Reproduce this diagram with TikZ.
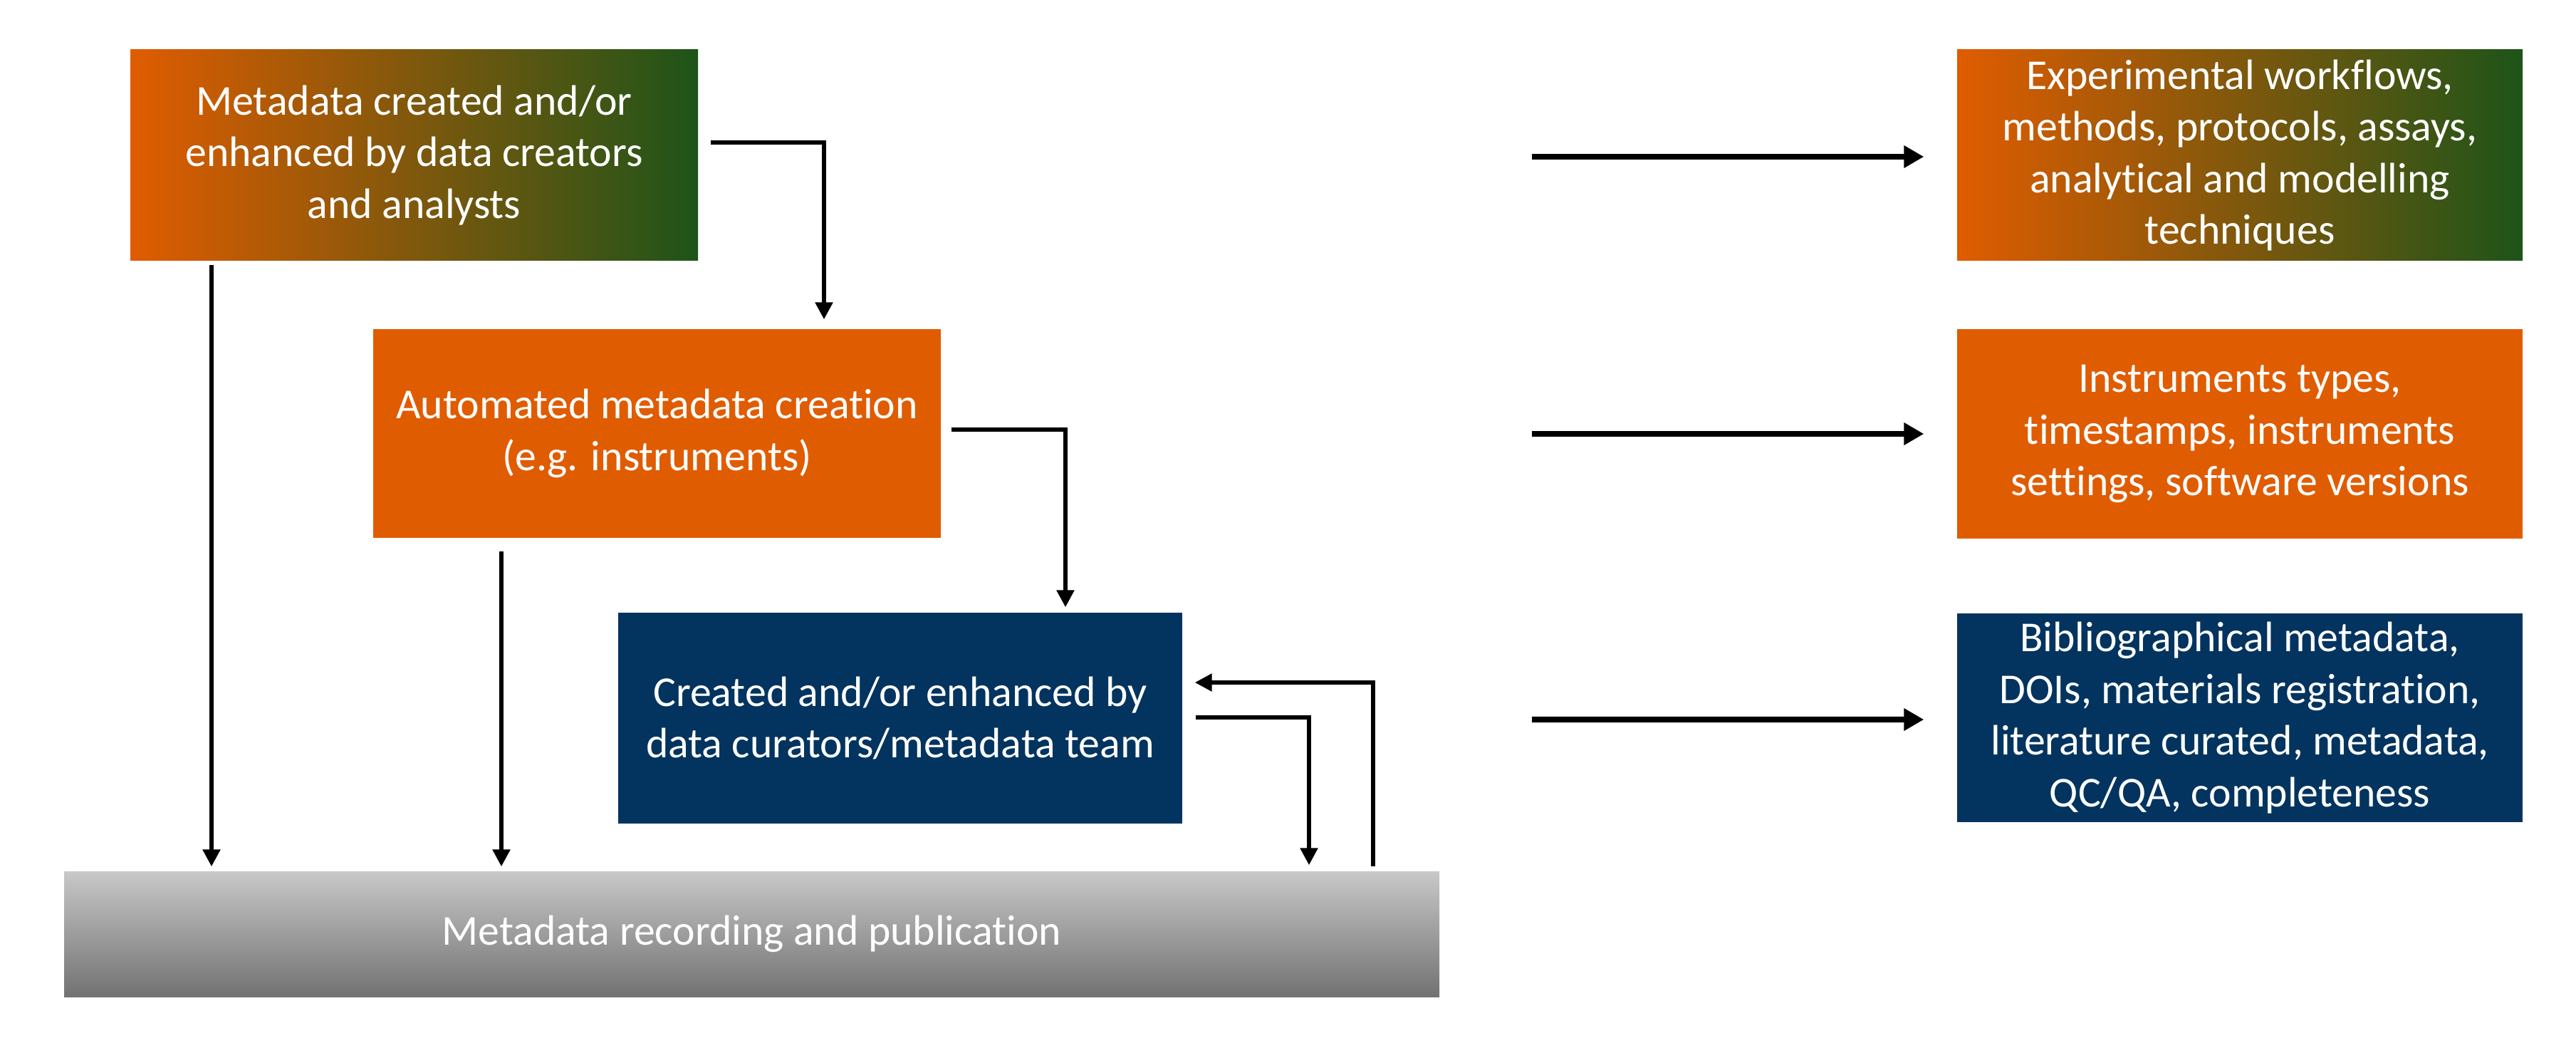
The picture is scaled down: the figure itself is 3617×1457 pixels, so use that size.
\documentclass[tikz,border=0pt]{standalone}
\usepackage{fontspec}
\setmainfont{Carlito}[Ligatures=NoCommon]
\usetikzlibrary{arrows.meta,calc}
\definecolor{orng}{HTML}{E05C00}
\definecolor{navy}{HTML}{03345F}
\definecolor{grtop}{HTML}{C8C8C8}
\definecolor{grbot}{HTML}{727272}
\definecolor{gmid}{HTML}{A8742E}
\definecolor{gmidb}{HTML}{80581A}
\definecolor{grn}{HTML}{1E5419}
\tikzset{
  box/.style={inner sep=0pt, align=center, text=white,
    font=\fontsize{17}{20.6}\selectfont},
  orangebox/.style={box, fill=orng},
  bluebox/.style={box, fill=navy},
  gradbox/.style={box, left color=orng, middle color=gmid, right color=grn},
  gradboxb/.style={box, left color=orng, middle color=gmidb, right color=grn},
  thinarr/.style={line width=1.6pt, -{Triangle[length=2.4mm,width=2.4mm]}},
  thickarr/.style={line width=2.3pt, -{Triangle[length=2.8mm,width=3mm]}},
}
\begin{document}
\begin{tikzpicture}[x=0.1mm,y=-0.1mm]
\useasboundingbox (0,0) rectangle (3617,1457);
% left column
\node[gradbox, minimum width=79.7mm, minimum height=29.6mm] (b1) at (581.5,218)
  {Metadata created and/or\\enhanced by data creators\\and analysts};
\node[orangebox, minimum width=79.7mm, minimum height=29.3mm] (b2) at (922.5,608.5)
  {Automated metadata creation\\(e.g. instruments)};
\node[bluebox, minimum width=79.2mm, minimum height=29.6mm] (b3) at (1264,1008)
  {Created and/or enhanced by\\data curators/metadata team};
\node[box, top color=grtop, bottom color=grbot, minimum width=193.1mm, minimum height=17.6mm] (gray) at (1055.5,1311)
  {Metadata recording and publication};
% right column
\node[gradboxb, minimum width=79.4mm, minimum height=29.6mm] (r1) at (3145,218)
  {Experimental workflows,\\methods, protocols, assays,\\analytical and modelling\\techniques};
\node[orangebox, minimum width=79.4mm, minimum height=29.4mm] (r2) at (3145,609)
  {Instruments types,\\timestamps, instruments\\settings, software versions};
\node[bluebox, minimum width=79.4mm, minimum height=29.3mm] (r3) at (3145,1007.5)
  {Bibliographical metadata,\\DOIs, materials registration,\\literature curated, metadata,\\QC/QA, completeness};
% connectors
\draw[thinarr] ($(b1.east)+(17,-18)$) -| ($(b2.north)+(234.5,-13)$);
\draw[thinarr] ($(b2.east)+(14,-5.5)$) -| ($(b3.north)+(232,-7)$);
\draw[thinarr] ($(b1.south)+(-284.5,5)$) -- ($(gray.north)+(-758.5,-6)$);
\draw[thinarr] ($(b2.south)+(-218.5,18)$) -- ($(gray.north)+(-351.5,-6)$);
\draw[thinarr] ($(b3.east)+(18,-1)$) -| ($(gray.north)+(782.5,-8)$);
\draw[thinarr] ($(gray.north)+(872.5,-6)$) |- ($(b3.east)+(17,-50)$);
% right arrows
\coordinate (s1) at (2151,220);
\coordinate (s2) at (2151,609);
\coordinate (s3) at (2151,1010);
\draw[thickarr] (s1) -- ($(r1.west)+(-46,2)$);
\draw[thickarr] (s2) -- ($(r2.west)+(-46,0)$);
\draw[thickarr] (s3) -- ($(r3.west)+(-46,2.5)$);
\end{tikzpicture}
\end{document}
